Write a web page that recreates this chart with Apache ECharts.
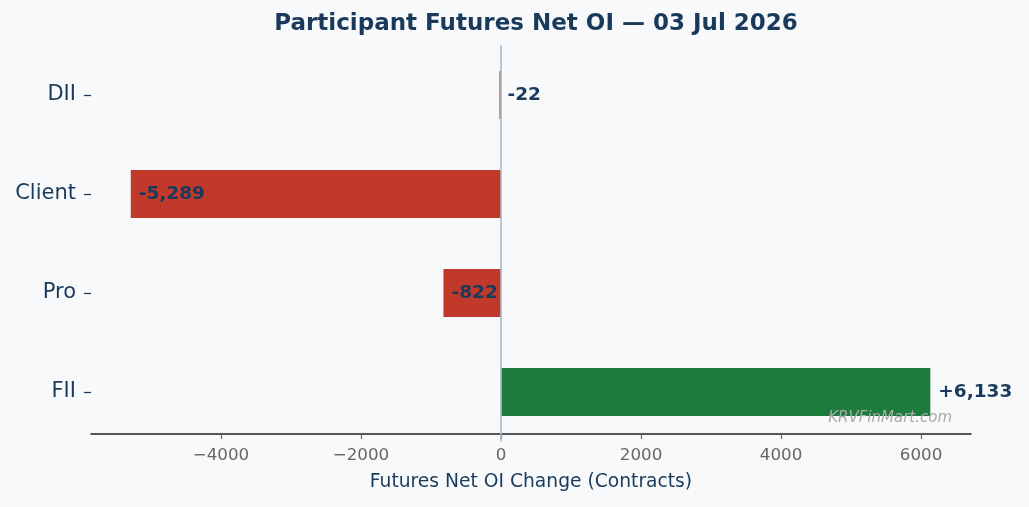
<!DOCTYPE html>
<html><head><meta charset="utf-8">
<script src="https://cdn.jsdelivr.net/npm/echarts@6/dist/echarts.min.js"></script>
<style>html,body{margin:0;padding:0;background:#f7f9fb;}#c{width:1029px;height:507px;}</style>
</head><body><div id="c"></div>
<script>
const categories = ['FII', 'Pro', 'Client', 'DII'];
const values = [6133, -822, -5289, -22];
const xTicks = [-4000, -2000, 0, 2000, 4000, 6000];
const xMin = -5857, xMax = 6714;
const titleText = 'Participant Futures Net OI \u2014 03 Jul 2026';
const xName = 'Futures Net OI Change (Contracts)';
const watermark = 'KRVFinMart.com';

const NAVY = '#1a3a5c', RED = '#c0392b', GREEN = '#1d7b3d';
const FONT = 'DejaVu Sans';

function fmtLabel(v) {
  const s = Math.abs(v).toLocaleString('en-US');
  return (v > 0 ? '+' : v < 0 ? '-' : '') + s;
}

const chart = echarts.init(document.getElementById('c'));
chart.setOption({
  backgroundColor: '#f7f9fb',
  animation: false,
  title: {
    text: titleText, left: 531, top: 8, textAlign: 'center',
    textStyle: { fontFamily: FONT, fontWeight: 'bold', fontSize: 23, color: NAVY }
  },
  grid: { left: 91, right: 58, top: 45.5, bottom: 65.5, outerBoundsMode: 'none' },
  xAxis: {
    type: 'value', min: xMin, max: xMax, offset: -7.5,
    axisLine: { show: true, lineStyle: { color: '#222', width: 1.6 } },
    axisTick: { show: true, customValues: xTicks, length: 5, lineStyle: { color: '#666', width: 1.2 } },
    axisLabel: {
      customValues: xTicks, color: '#666', fontSize: 16.7, fontFamily: FONT, margin: 13,
      formatter: v => String(v).replace('-', '\u2212')
    },
    splitLine: { show: false },
    name: xName, nameLocation: 'middle', nameGap: 39,
    nameTextStyle: { color: NAVY, fontSize: 18.7, fontFamily: FONT }
  },
  yAxis: {
    type: 'category', data: categories,
    axisLine: { show: false, onZero: false },
    axisTick: { show: true, interval: 0, alignWithLabel: true, length: 7, lineStyle: { color: NAVY, width: 1.2 } },
    axisLabel: { color: NAVY, fontSize: 21, fontFamily: FONT, margin: 15, interval: 0 },
    splitLine: { show: false }
  },
  series: [{
    type: 'bar', barWidth: 48,
    data: values.map(v => ({
      value: v,
      itemStyle: { color: v >= 0 ? GREEN : RED },
      label: { position: v >= 0 ? 'right' : 'insideLeft' }
    })),
    label: {
      show: true, distance: 8, color: NAVY, fontWeight: 'bold', fontSize: 18.5, fontFamily: FONT,
      formatter: p => fmtLabel(p.value)
    },
    markLine: {
      silent: true, symbol: 'none', label: { show: false },
      lineStyle: { color: '#a9b8c9', width: 1.6, type: 'solid' },
      data: [{ xAxis: 0 }]
    }
  }],
  graphic: [{
    type: 'text', right: 77, bottom: 81, z: 100,
    style: { text: watermark, font: 'italic 15px "DejaVu Sans"', fill: '#aaaaaa' }
  }]
});
</script></body></html>
